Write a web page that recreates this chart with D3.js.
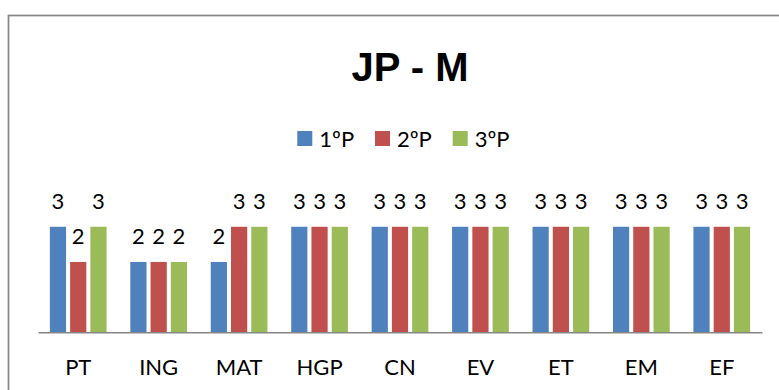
<!DOCTYPE html>
<html>
<head>
<meta charset="utf-8">
<script src="https://cdn.jsdelivr.net/npm/d3@7/dist/d3.min.js"></script>
<style>
  html, body { margin: 0; padding: 0; background: #ffffff; }
  svg { display: block; font-family: Lato, "Liberation Sans", Arial, sans-serif; }
</style>
</head>
<body>
<svg id="chart" width="779" height="390"></svg>
<script>
// Subjects and the three term grades
const subjects = ["PT", "ING", "MAT", "HGP", "CN", "EV", "ET", "EM", "EF"];
const periods = ["1ºP", "2ºP", "3ºP"];
const grades1P = [3, 2, 2, 3, 3, 3, 3, 3, 3];
const grades2P = [2, 2, 3, 3, 3, 3, 3, 3, 3];
const grades3P = [3, 2, 3, 3, 3, 3, 3, 3, 3];
const colors = ["#4F81BD", "#C0504D", "#9BBB59"];
const chartTitle = "JP - M";

const seriesValues = [grades1P, grades2P, grades3P];
const rows = subjects.map((s, i) => ({
  subject: s,
  values: periods.map((p, j) => ({ period: p, value: seriesValues[j][i] }))
}));

const svg = d3.select("#chart");

// Outer frame
svg.append("rect")
  .attr("x", 8.5).attr("y", 15.5)
  .attr("width", 800).attr("height", 400)
  .attr("fill", "none")
  .attr("stroke", "#878787")
  .attr("stroke-width", 1.75);

// Title
svg.append("text")
  .attr("x", 410).attr("y", 81)
  .attr("text-anchor", "middle")
  .attr("font-family", "Liberation Sans, Arial, sans-serif")
  .attr("font-size", 40)
  .attr("font-weight", "bold")
  .attr("fill", "#000")
  .text(chartTitle);

// Scales
const x0 = d3.scaleBand()
  .domain(subjects)
  .range([38, 762])
  .paddingInner(0.295)
  .paddingOuter(0.1475);

const x1 = d3.scaleBand()
  .domain(periods)
  .range([0, x0.bandwidth()])
  .paddingInner(0.2)
  .paddingOuter(0);

const color = d3.scaleOrdinal().domain(periods).range(colors);

const y = d3.scaleLinear().domain([0, 4]).range([332.3, 191.6]);

// Bars
const groups = svg.append("g")
  .selectAll("g")
  .data(rows)
  .join("g")
  .attr("transform", d => `translate(${x0(d.subject)},0)`);

groups.selectAll("rect")
  .data(d => d.values)
  .join("rect")
  .attr("x", d => x1(d.period))
  .attr("y", d => y(d.value))
  .attr("width", x1.bandwidth())
  .attr("height", d => y(0) - y(d.value))
  .attr("fill", d => color(d.period));

// Value labels
groups.selectAll("text")
  .data(d => d.values)
  .join("text")
  .attr("x", d => x1(d.period) + x1.bandwidth() / 2)
  .attr("y", d => y(d.value) - 17.5)
  .attr("text-anchor", "middle")
  .attr("font-size", 22)
  .attr("fill", "#000")
  .text(d => d.value);

// Category axis
const xAxis = svg.append("g")
  .attr("transform", `translate(0,${y(0)})`)
  .call(d3.axisBottom(x0).tickSize(0).tickSizeOuter(0).tickPadding(27));
xAxis.select(".domain")
  .attr("stroke", "#878787")
  .attr("stroke-width", 1.6);
xAxis.selectAll("text")
  .attr("font-size", 22)
  .attr("font-family", "Lato, Liberation Sans, Arial, sans-serif")
  .attr("fill", "#000");

// Legend
const legendX = [297.3, 375, 452.7];
const legend = svg.append("g")
  .selectAll("g")
  .data(periods)
  .join("g")
  .attr("transform", (d, i) => `translate(${legendX[i]},131)`);
legend.append("rect")
  .attr("width", 15).attr("height", 15)
  .attr("fill", d => color(d));
legend.append("text")
  .attr("x", 22).attr("y", 15.5)
  .attr("font-size", 22)
  .attr("fill", "#000")
  .text(d => d);
</script>
</body>
</html>
